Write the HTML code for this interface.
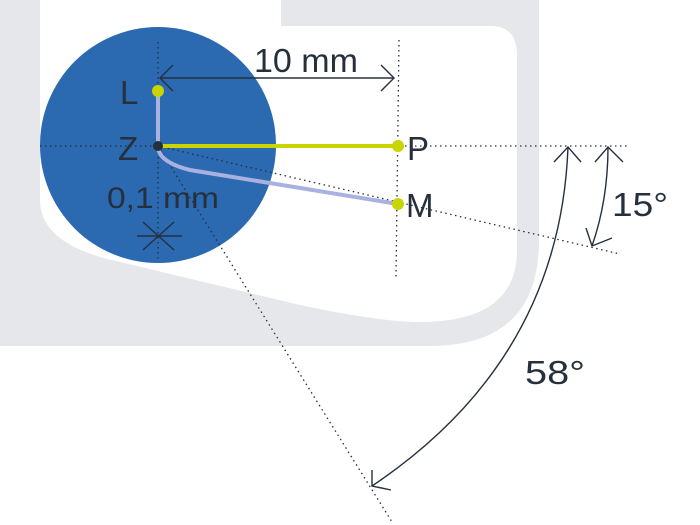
<!DOCTYPE html>
<html><head><meta charset="utf-8"><style>
html,body{margin:0;padding:0;background:#fff}
svg{display:block}
text{font-family:"Liberation Sans","DejaVu Sans",sans-serif;fill:#26303c}
</style></head><body>
<svg width="700" height="525" viewBox="0 0 700 525" xmlns="http://www.w3.org/2000/svg">
<path d="M0,0 H539 V240 Q539,346 430,346 H0 Z" fill="#e6e7ea"/>
<path d="M40,0 H281 V26 H490 Q517,26 517,55 V250 Q517,322 420,322 Q380,322 300,305 L120,262 Q40,245 40,200 Z" fill="#fff"/>
<circle cx="158" cy="145" r="118" fill="#2b69b1"/>
<g stroke="#26303c" stroke-width="1.3" stroke-dasharray="1.5 3.5" fill="none">
<line x1="40" y1="146" x2="630" y2="146"/>
<line x1="158" y1="42" x2="158" y2="260"/>
<line x1="399" y1="40" x2="396" y2="278"/>
<line x1="158" y1="146" x2="620" y2="254"/>
<line x1="158" y1="146" x2="392" y2="522"/>
</g>
<g stroke="#26303c" stroke-width="1.4" fill="none">
<line x1="160" y1="78" x2="394" y2="78"/>
<polyline points="173,65 160,78 173,91"/>
<polyline points="381,65 394,78 381,91"/>
<path d="M568,147 Q560,360 372,486"/>
<polyline points="554,162 568,147 581,162"/>
<polyline points="372,470 372,486 391,490"/>
<path d="M608,147 Q608,200 592,246"/>
<polyline points="595,162 608,147 623,162"/>
<polyline points="586,228 592,246 612,238"/>
<line x1="137" y1="236" x2="182" y2="236"/>
<line x1="143" y1="222" x2="174" y2="250"/>
<line x1="143" y1="250" x2="174" y2="222"/>
</g>
<path d="M158,92 V146 Q158,162 190,170 L398,204" stroke="#a9b1e0" stroke-width="4" fill="none"/>
<line x1="158" y1="146" x2="398" y2="146" stroke="#c9d400" stroke-width="4"/>
<circle cx="158" cy="91" r="6" fill="#c9d400"/>
<circle cx="398" cy="146" r="6" fill="#c9d400"/>
<circle cx="398" cy="204" r="6" fill="#c9d400"/>
<circle cx="158" cy="146" r="5" fill="#26303c"/>
<text x="254" y="72" font-size="33" textLength="104" lengthAdjust="spacingAndGlyphs">10 mm</text>
<text x="120" y="104" font-size="33">L</text>
<text x="118" y="160" font-size="33">Z</text>
<text x="407" y="160" font-size="33">P</text>
<text x="406" y="217" font-size="33">M</text>
<text x="107" y="208" font-size="30" textLength="112" lengthAdjust="spacingAndGlyphs">0,1 mm</text>
<text x="612" y="216" font-size="33" textLength="56" lengthAdjust="spacingAndGlyphs">15°</text>
<text x="525" y="384" font-size="33" textLength="60" lengthAdjust="spacingAndGlyphs">58°</text>
</svg>
</body></html>
